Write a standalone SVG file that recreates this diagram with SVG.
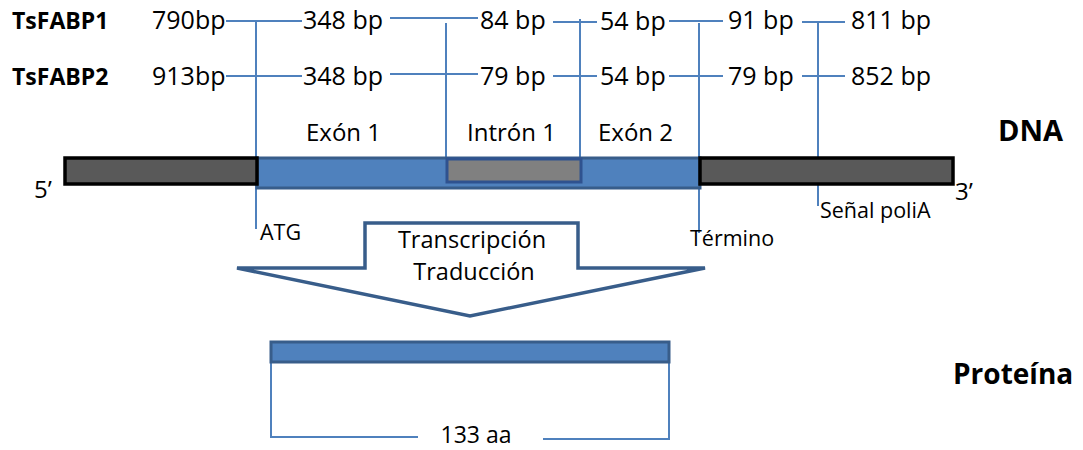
<svg xmlns="http://www.w3.org/2000/svg" width="1083" height="450" viewBox="0 0 1083 450">
<style>
text{font-family:"Open Sans","Liberation Sans",sans-serif;fill:#000}
.t{font-size:25px}
.s{font-size:21.5px}
.b{font-weight:bold}
.ln{stroke:#4F81BD;stroke-width:2;fill:none}
.dark{fill:#595959;stroke:#000;stroke-width:3.5}
.blue{fill:#4F81BD;stroke:#385D8A;stroke-width:3}
</style>
<rect width="1083" height="450" fill="#fff"/>
<g id="connectors">
<line class="ln" x1="226" y1="21" x2="302" y2="21"/>
<line class="ln" x1="226" y1="76" x2="302" y2="76"/>
<line class="ln" x1="256" y1="22" x2="256" y2="229"/>
<line class="ln" x1="390" y1="18" x2="478" y2="18"/>
<line class="ln" x1="390" y1="74" x2="478" y2="74"/>
<line class="ln" x1="446" y1="23" x2="446" y2="157"/>
<line class="ln" x1="553" y1="22" x2="597" y2="22"/>
<line class="ln" x1="553" y1="76" x2="597" y2="76"/>
<line class="ln" x1="580" y1="19" x2="580" y2="157"/>
<line class="ln" x1="669" y1="21" x2="723" y2="21"/>
<line class="ln" x1="669" y1="76" x2="723" y2="76"/>
<line class="ln" x1="699" y1="23" x2="699" y2="233"/>
<line class="ln" x1="802" y1="22" x2="845" y2="22"/>
<line class="ln" x1="802" y1="76" x2="845" y2="76"/>
<line class="ln" x1="818" y1="22" x2="818" y2="206"/>
<polyline class="ln" points="271,362 271,437 418,437"/>
<polyline class="ln" points="543,439 669,439 669,362"/>
</g>
<g id="labels">
<text class="t b" x="12" y="29" style="font-size:23px">TsFABP1</text>
<text class="t b" x="12" y="85" style="font-size:23px">TsFABP2</text>
<text class="t" x="152" y="29">790bp</text>
<text class="t" x="152" y="85">913bp</text>
<text class="t" x="303" y="29">348 bp</text>
<text class="t" x="303" y="85">348 bp</text>
<text class="t" x="480" y="29">84 bp</text>
<text class="t" x="480" y="85">79 bp</text>
<text class="t" x="600" y="30">54 bp</text>
<text class="t" x="600" y="85">54 bp</text>
<text class="t" x="728" y="29">91 bp</text>
<text class="t" x="728" y="85">79 bp</text>
<text class="t" x="851" y="29">811 bp</text>
<text class="t" x="851" y="85">852 bp</text>
</g>
<g id="dna">
<rect class="blue" x="257" y="158" width="443" height="30"/>
<rect x="447" y="159" width="134" height="23" fill="#808080" stroke="#2F528F" stroke-width="3"/>
<rect class="dark" x="65" y="158" width="192" height="26"/>
<rect class="dark" x="700" y="158" width="253" height="26"/>
<text class="t" x="306" y="141" style="font-size:24px">Exón 1</text>
<text class="t" x="467" y="141" style="font-size:24px">Intrón 1</text>
<text class="t" x="598" y="141" style="font-size:24px">Exón 2</text>
<text class="t b" x="998" y="141" style="font-size:29px">DNA</text>
<text class="t" x="34" y="198" style="font-size:24px">5’</text>
<text class="t" x="955" y="200" style="font-size:24px">3’</text>
</g>
<g id="markers">
<text class="s" x="260" y="240">ATG</text>
<text class="s" x="690" y="246">Término</text>
<text class="s" x="820" y="218">Señal poliA</text>
</g>
<g id="arrow">
<polygon points="365,223 578,223 578,268 705,268 470,316 237,268 365,268" fill="#fff" stroke="#385D8A" stroke-width="3.5" stroke-linejoin="miter"/>
<text class="t" x="472" y="248" text-anchor="middle" style="font-size:23.5px">Transcripción</text>
<text class="t" x="474" y="280" text-anchor="middle" style="font-size:23.5px">Traducción</text>
</g>
<g id="protein">
<rect class="blue" x="271" y="342" width="398" height="20"/>
<text class="t" x="476" y="443" text-anchor="middle" style="font-size:23px">133 aa</text>
<text class="t b" x="953" y="384" style="font-size:28px">Proteína</text>
</g>
</svg>
